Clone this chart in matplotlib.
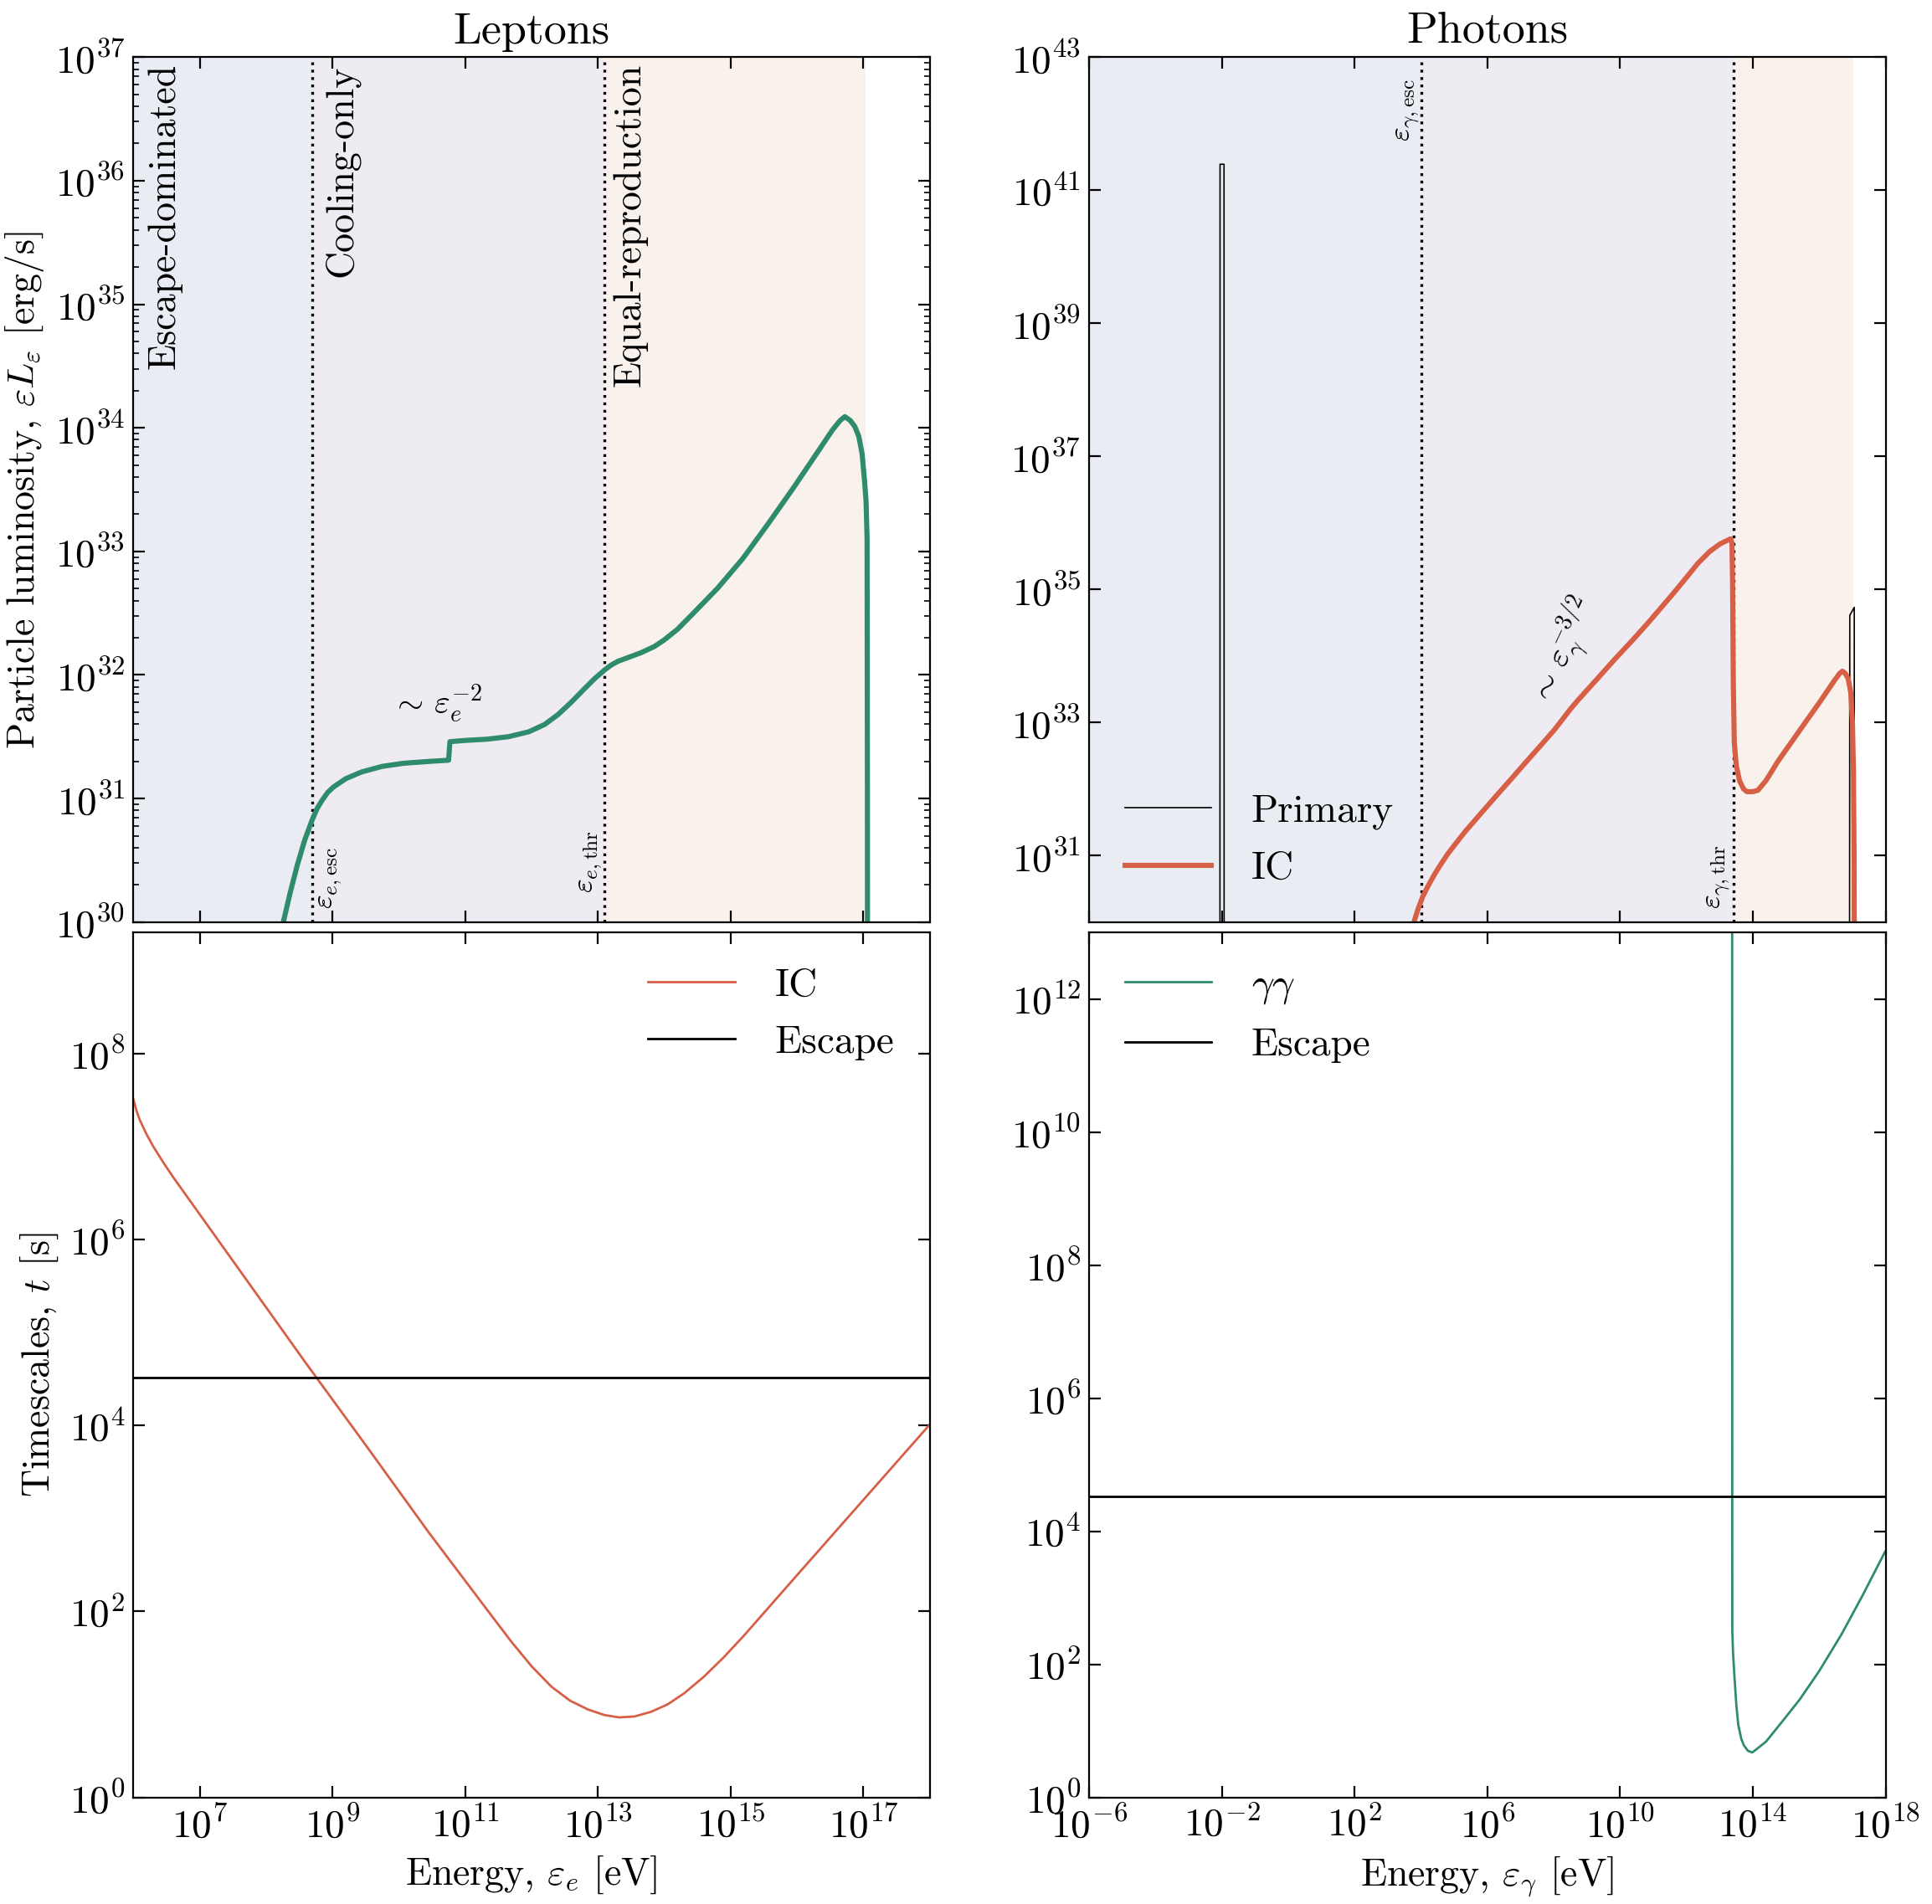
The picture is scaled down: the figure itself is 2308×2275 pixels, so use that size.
import numpy as np
import matplotlib
matplotlib.use("Agg")
import matplotlib.pyplot as plt
from matplotlib.ticker import LogLocator, NullLocator

plt.rcParams.update({
    "font.family": "serif",
    "font.serif": ["cmr10"],
    "mathtext.fontset": "cm",
    "axes.formatter.use_mathtext": True,
    "axes.unicode_minus": True,
    "font.size": 16,
    "axes.labelsize": 16.5,
    "axes.titlesize": 19.5,
    "xtick.labelsize": 17,
    "ytick.labelsize": 17,
    "legend.fontsize": 17,
    "legend.handlelength": 2.2,
    "legend.handletextpad": 1.0,
    "legend.labelspacing": 0.55,
    "xtick.direction": "in",
    "ytick.direction": "in",
    "xtick.top": True,
    "ytick.right": True,
    "xtick.major.size": 5,
    "ytick.major.size": 5,
    "ytick.minor.size": 2.5,
    "axes.linewidth": 0.8,
})

GREEN = "#2e8b6c"
RED = "#d65f45"
C_ESC = "#e9ecf2"
C_COOL = "#efebf3"
C_EQ = "#f9f1eb"

# lepton luminosity (log10 eV, log10 erg/s)
lep_logE = [8.20, 8.26, 8.36, 8.47, 8.58, 8.69, 8.77, 8.85, 8.93, 9.02, 9.20, 9.44, 9.75,
            10.07, 10.45, 10.75, 10.77, 11.00, 11.33, 11.65, 11.96, 12.20, 12.40, 12.60,
            12.80, 12.95, 13.10, 13.20, 13.30, 13.45, 13.65, 13.85, 13.99, 14.20, 14.42,
            14.80, 15.18, 15.56, 15.94, 16.28, 16.53, 16.65, 16.72, 16.80, 16.87, 16.93,
            16.98, 17.02, 17.04, 17.055, 17.06, 17.062]
lep_logL = [29.75, 30.00, 30.23, 30.46, 30.66, 30.82, 30.92, 30.99, 31.05, 31.095, 31.16, 31.215, 31.26,
            31.285, 31.30, 31.31, 31.46, 31.47, 31.48, 31.50, 31.54, 31.60, 31.68, 31.78,
            31.89, 31.97, 32.04, 32.08, 32.11, 32.14, 32.18, 32.23, 32.28, 32.37, 32.49,
            32.70, 32.94, 33.22, 33.51, 33.78, 33.98, 34.06, 34.09, 34.06, 34.01, 33.93,
            33.79, 33.55, 33.40, 33.10, 31.00, 29.00]

# photon luminosity
ic_logE = [3.70, 3.80, 3.90, 4.05, 4.20, 4.40, 4.56, 4.80, 5.00, 5.33, 5.80, 6.22, 6.70,
           7.12, 7.60, 8.02, 8.30, 8.50, 8.74, 9.30, 9.82, 10.40, 10.90, 11.62, 12.00,
           12.34, 12.70, 13.00, 13.20, 13.33, 13.37, 13.39, 13.41, 13.44, 13.50, 13.60,
           13.72, 13.82, 14.00, 14.15, 14.40, 14.76, 15.10, 15.48, 16.02, 16.47, 16.62,
           16.70, 16.78, 16.87, 16.95, 17.00, 17.03, 17.05, 17.06]
ic_logL = [29.80, 30.02, 30.18, 30.38, 30.53, 30.71, 30.84, 31.02, 31.15, 31.36, 31.63, 31.87, 32.14,
           32.38, 32.65, 32.89, 33.07, 33.20, 33.34, 33.65, 33.94, 34.25, 34.53, 34.95, 35.18,
           35.39, 35.57, 35.68, 35.73, 35.76, 35.70, 35.00, 33.60, 32.70, 32.35, 32.12,
           32.00, 31.96, 31.96, 31.98, 32.13, 32.42, 32.66, 32.93, 33.31, 33.64, 33.74,
           33.77, 33.74, 33.66, 33.45, 33.00, 32.30, 31.00, 29.00]

prim_logE = [-3.0, -2.06, -2.055, -1.935, -1.93, 16.90, 16.92, 17.055, 17.06, 18.0]
prim_logL = [20.0, 20.0, 41.39, 41.39, 20.0, 20.0, 34.61, 34.73, 20.0, 20.0]

# timescales (log10 eV, log10 s)
tic_logE = [6.00, 6.05, 6.10, 6.20, 6.30, 6.45, 6.60, 6.80, 7.20, 7.68, 8.60, 9.53, 10.45,
            11.38, 11.70, 12.00, 12.30, 12.58, 12.85, 13.10, 13.32, 13.55, 13.80, 14.05,
            14.30, 14.60, 14.90, 15.20, 16.00, 17.00, 18.00]
tic_logt = [7.51, 7.38, 7.28, 7.13, 7.00, 6.83, 6.67, 6.47, 6.07, 5.59, 4.67, 3.76, 2.85,
            1.97, 1.67, 1.41, 1.19, 1.04, 0.945, 0.885, 0.86, 0.87, 0.92, 1.00,
            1.12, 1.30, 1.51, 1.74, 2.39, 3.20, 4.01]

tgg_logE = [13.375, 13.378, 13.38, 13.40, 13.44, 13.50, 13.56, 13.65, 13.73, 13.85, 13.98,
            14.10, 14.40, 14.90, 15.41, 16.00, 16.67, 17.30, 17.98]
tgg_logt = [14.0, 4.0, 2.50, 2.20, 1.85, 1.40, 1.09, 0.88, 0.78, 0.70, 0.675,
            0.72, 0.84, 1.15, 1.47, 1.90, 2.45, 3.03, 3.69]

t_esc = 3.3e4

# region boundaries
e_esc, e_thr, e_max = 4.9e8, 1.26e13, 1.07e17
g_esc, g_thr = 1.0e4, 2.6e13


def lg(a):
    return 10 ** np.array(a)


fig, axes = plt.subplots(2, 2, figsize=(11.54, 11.375), dpi=200, sharex="col")
fig.subplots_adjust(left=0.069, right=0.976, top=0.970, bottom=0.056, wspace=0.2, hspace=0.012)
ax_el, ax_ph = axes[0]
ax_te, ax_tp = axes[1]

# --- leptons
ax_el.axvspan(1e6, e_esc, color=C_ESC, lw=0, zorder=0)
ax_el.axvspan(e_esc, e_thr, color=C_COOL, lw=0, zorder=0)
ax_el.axvspan(e_thr, e_max, color=C_EQ, lw=0, zorder=0)
ax_el.axvline(e_esc, color="k", ls=":", lw=1.2)
ax_el.axvline(e_thr, color="k", ls=":", lw=1.2)
ax_el.plot(lg(lep_logE), lg(lep_logL), color=GREEN, lw=2.2)
ax_el.set_xscale("log")
ax_el.set_yscale("log")
ax_el.set_xlim(1e6, 1e18)
ax_el.set_ylim(1e30, 1e37)
ax_el.set_yticks([10.0 ** k for k in range(30, 38)])
ax_el.yaxis.set_minor_locator(LogLocator(base=10, subs=np.arange(2, 10), numticks=100))
ax_el.set_title("Leptons")
ax_el.set_ylabel(r"Particle luminosity, $\varepsilon L_\varepsilon$ [erg/s]")

reg = dict(xycoords=("data", "axes fraction"), textcoords="offset points",
           rotation=90, va="top", ha="left", fontsize=16.5)
ax_el.annotate("Escape-dominated", xy=(1e6, 0.993), xytext=(6, 0), **reg)
ax_el.annotate("Cooling-only", xy=(e_esc, 0.991), xytext=(5, 0), **reg)
ax_el.annotate("Equal-reproduction", xy=(e_thr, 0.993), xytext=(3.5, 0), **reg)

small = dict(xycoords=("data", "axes fraction"), textcoords="offset points",
             rotation=90, fontsize=13)
ax_el.annotate(r"$\varepsilon_{e,\mathrm{esc}}$", xy=(e_esc, 0.015), xytext=(2, 0),
               ha="left", va="bottom", **small)
ax_el.annotate(r"$\varepsilon_{e,\mathrm{thr}}$", xy=(e_thr, 0.034), xytext=(-0.5, 0),
               ha="right", va="bottom", **small)
ax_el.text(10 ** 10.57, 10 ** 31.77, r"$\sim\,\varepsilon_e^{-2}$", ha="center", va="center", fontsize=14.5)

# --- photons
ax_ph.axvspan(1e-6, g_esc, color=C_ESC, lw=0, zorder=0)
ax_ph.axvspan(g_esc, g_thr, color=C_COOL, lw=0, zorder=0)
ax_ph.axvspan(g_thr, e_max, color=C_EQ, lw=0, zorder=0)
ax_ph.axvline(g_esc, color="k", ls=":", lw=1.2)
ax_ph.axvline(g_thr, color="k", ls=":", lw=1.2)
ax_ph.plot(lg(prim_logE), lg(prim_logL), color="k", lw=0.6, label="Primary")
ax_ph.plot(lg(ic_logE), lg(ic_logL), color=RED, lw=2.2, label="IC")
ax_ph.set_xscale("log")
ax_ph.set_yscale("log")
ax_ph.set_xlim(1e-6, 1e18)
ax_ph.set_ylim(1e30, 1e43)
ax_ph.set_yticks([10.0 ** k for k in range(31, 44, 2)])
ax_ph.yaxis.set_minor_locator(NullLocator())
ax_ph.set_title("Photons")
ax_ph.annotate(r"$\varepsilon_{\gamma,\mathrm{esc}}$", xy=(g_esc, 0.975), xytext=(0, 0),
               ha="right", va="top", **small)
ax_ph.annotate(r"$\varepsilon_{\gamma,\mathrm{thr}}$", xy=(g_thr, 0.015), xytext=(-0.5, 0),
               ha="right", va="bottom", **small)
ax_ph.text(10 ** 8.3, 10 ** 34.05, r"$\sim\,\varepsilon_\gamma^{-3/2}$", rotation=65,
           ha="center", va="center", fontsize=14.5)
ax_ph.legend(loc="lower left", frameon=False)

# --- lepton timescales
ax_te.plot(lg(tic_logE), lg(tic_logt), color=RED, lw=1.0, label="IC")
ax_te.axhline(t_esc, color="k", lw=1.0, label="Escape")
ax_te.set_yscale("log")
ax_te.set_ylim(1, 2e9)
ax_te.set_xticks([10.0 ** k for k in range(7, 18, 2)])
ax_te.set_yticks([10.0 ** k for k in range(0, 9, 2)])
ax_te.yaxis.set_minor_locator(NullLocator())
ax_te.set_xlim(1e6, 1e18)
ax_te.set_xlabel(r"Energy, $\varepsilon_e$ [eV]")
ax_te.set_ylabel(r"Timescales, $t$ [s]")
ax_te.legend(loc="upper right", frameon=False)

# --- photon timescales
ax_tp.plot(lg(tgg_logE), lg(tgg_logt), color=GREEN, lw=1.0, label=r"$\gamma\gamma$")
ax_tp.axhline(t_esc, color="k", lw=1.0, label="Escape")
ax_tp.set_yscale("log")
ax_tp.set_ylim(1, 1e13)
ax_tp.set_xticks([10.0 ** k for k in range(-6, 19, 4)])
ax_tp.set_yticks([10.0 ** k for k in range(0, 13, 2)])
ax_tp.yaxis.set_minor_locator(NullLocator())
ax_tp.set_xlim(1e-6, 1e18)
ax_tp.set_xlabel(r"Energy, $\varepsilon_\gamma$ [eV]")
ax_tp.legend(loc="upper left", frameon=False)

for ax in axes.flat:
    ax.xaxis.set_minor_locator(NullLocator())

fig.savefig("out.png", dpi=200)
